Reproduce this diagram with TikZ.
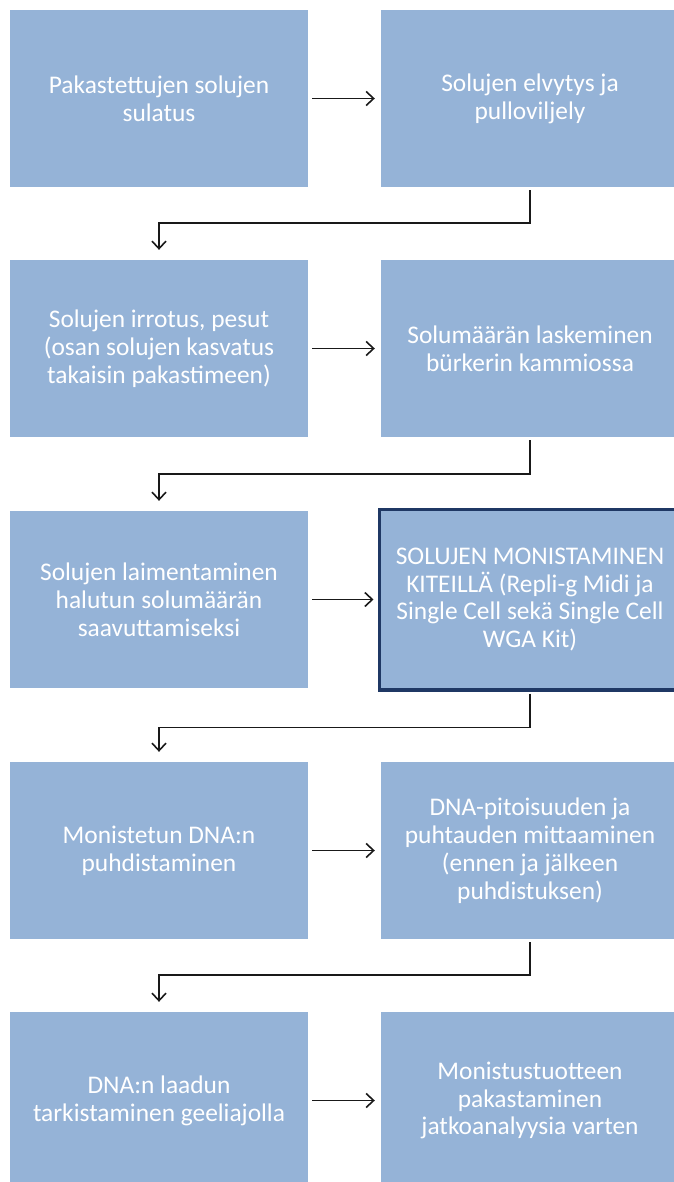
\documentclass[tikz,border=0pt]{standalone}
\usepackage{fontspec}
\setmainfont{Carlito}
\usetikzlibrary{arrows.meta}
\definecolor{boxblue}{HTML}{95B3D7}
\definecolor{darkedge}{HTML}{1F3864}
\tikzset{
  stepbox/.style={fill=boxblue, draw=none, minimum width=298bp, minimum height=177bp,
    inner sep=0pt, align=center, text=white, font=\fontsize{25.5}{28}\selectfont, anchor=center},
  keybox/.style={stepbox, draw=darkedge, line width=3.5bp, minimum width=301.5bp, minimum height=180.5bp},
  arr/.style={draw=black!90, line width=1.6bp, -{Straight Barb[length=7.5bp,width=14bp,line width=1.6bp]}},
}
\begin{document}
\begin{tikzpicture}[x=1bp,y=1bp]
\useasboundingbox (0,0) rectangle (674,-1182);
\begin{scope}
\clip (0,0) rectangle (674,-1182);
\node[stepbox] (l1) at (159,-98.5) {Pakastettujen solujen\\sulatus};
\node[stepbox] (r1) at (530,-98.5) {Solujen elvytys ja\\pulloviljely};
\node[stepbox] (l2) at (159,-348.5) {Solujen irrotus, pesut\\(osan solujen kasvatus\\takaisin pakastimeen)};
\node[stepbox] (r2) at (530,-348.5) {Solumäärän laskeminen\\bürkerin kammiossa};
\node[stepbox] (l3) at (159,-599.5) {Solujen laimentaminen\\halutun solumäärän\\saavuttamiseksi};
\node[keybox] (r3) at (530,-599.5) {SOLUJEN MONISTAMINEN\\KITEILLÄ (Repli-g Midi ja\\Single Cell sekä Single Cell\\WGA Kit)};
\node[stepbox] (l4) at (159,-850.5) {Monistetun DNA:n\\puhdistaminen};
\node[stepbox] (r4) at (530,-850.5) {DNA-pitoisuuden ja\\puhtauden mittaaminen\\(ennen ja jälkeen\\puhdistuksen)};
\node[stepbox] (l5) at (159,-1100.5) {DNA:n laadun\\tarkistaminen geeliajolla};
\node[stepbox] (r5) at (530,-1100.5) {Monistustuotteen\\pakastaminen\\jatkoanalyysia varten};
\end{scope}
% horizontal arrows
\foreach \a/\b in {l1/r1,l2/r2,l4/r4,l5/r5}
  \draw[arr] ([xshift=4bp]\a.east) -- ([xshift=-6bp]\b.west);
\draw[arr] ([xshift=4bp]l3.east) -- ([xshift=-4bp]r3.west);
% elbow connectors
\draw[arr] ([yshift=-3bp]r1.south) -- ++(0,-33) -| ([yshift=10bp]l2.north);
\draw[arr] ([yshift=-3bp]r2.south) -- ++(0,-34) -| ([yshift=10bp]l3.north);
\draw[arr] ([yshift=-2bp]r3.south) -- ++(0,-34) -| ([yshift=10bp]l4.north);
\draw[arr] ([yshift=-3bp]r4.south) -- ++(0,-33) -| ([yshift=10bp]l5.north);
\end{tikzpicture}
\end{document}
